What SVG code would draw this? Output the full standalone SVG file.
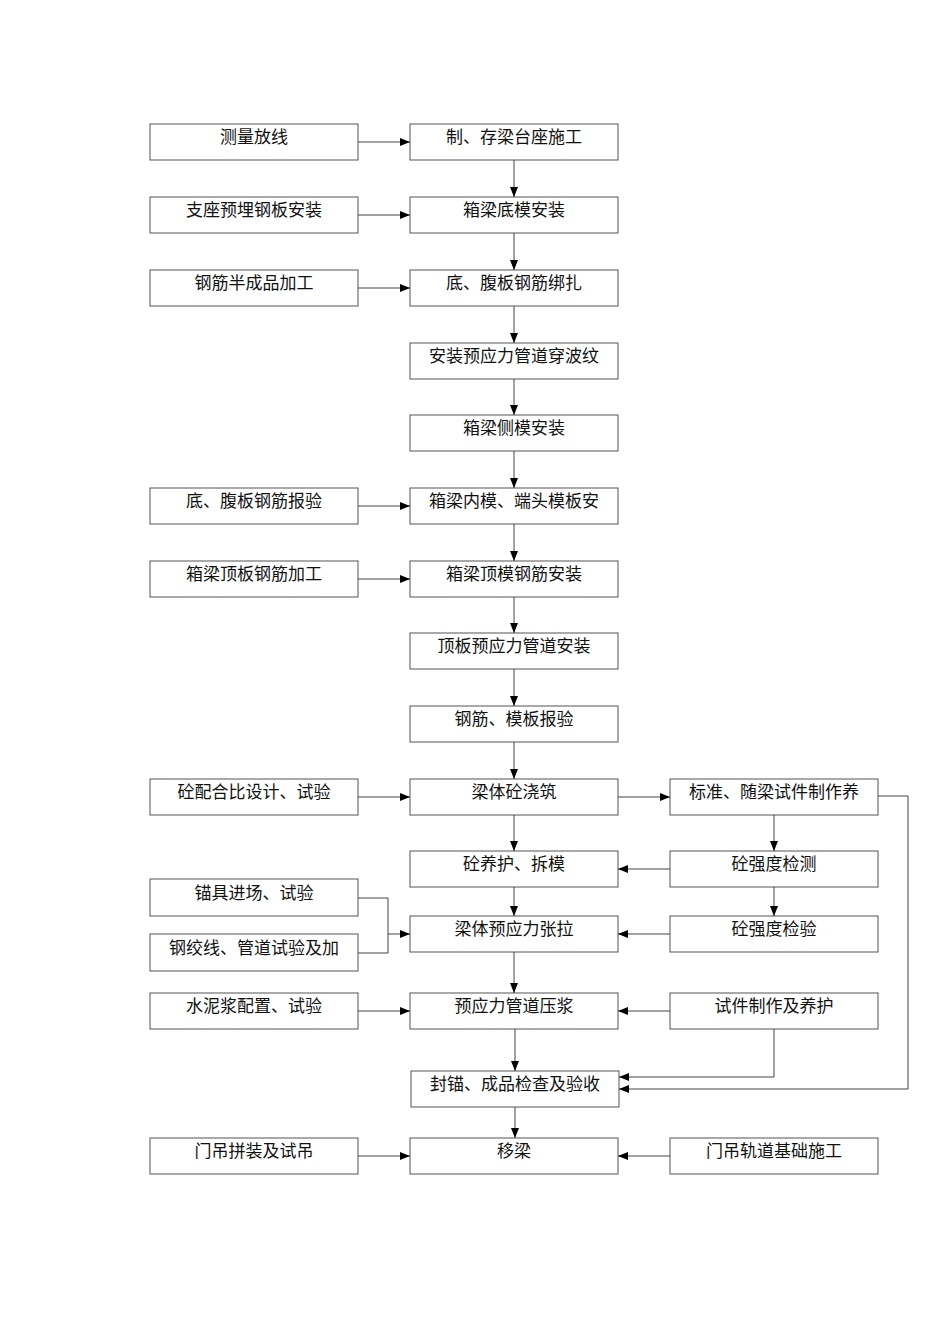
<svg xmlns="http://www.w3.org/2000/svg" width="950" height="1344" viewBox="0 0 950 1344">
<style>
rect{fill:#fff;stroke:#555;stroke-width:1}
text{font-family:"Noto Sans CJK SC",sans-serif;font-size:17px;fill:#111;text-anchor:middle}
.c path{fill:none;stroke:#444;stroke-width:1}
</style>
<defs><marker id="a" markerWidth="10" markerHeight="8" refX="10" refY="4" orient="auto" markerUnits="userSpaceOnUse"><path d="M0,0L10,4L0,8z" fill="#000"/></marker></defs>
<rect width="950" height="1344" style="stroke:none"/>
<g id="n1"><rect x="150" y="124" width="208" height="36"/><text x="254" y="143">测量放线</text></g>
<g id="n2"><rect x="410" y="124" width="208" height="36"/><text x="514" y="143">制、存梁台座施工</text></g>
<g id="n3"><rect x="150" y="197" width="208" height="36"/><text x="254" y="216">支座预埋钢板安装</text></g>
<g id="n4"><rect x="410" y="197" width="208" height="36"/><text x="514" y="216">箱梁底模安装</text></g>
<g id="n5"><rect x="150" y="270" width="208" height="36"/><text x="254" y="289">钢筋半成品加工</text></g>
<g id="n6"><rect x="410" y="270" width="208" height="36"/><text x="514" y="289">底、腹板钢筋绑扎</text></g>
<g id="n7"><rect x="410" y="343" width="208" height="36"/><text x="514" y="362">安装预应力管道穿波纹</text></g>
<g id="n8"><rect x="410" y="415" width="208" height="36"/><text x="514" y="434">箱梁侧模安装</text></g>
<g id="n9"><rect x="150" y="488" width="208" height="36"/><text x="254" y="507">底、腹板钢筋报验</text></g>
<g id="n10"><rect x="410" y="488" width="208" height="36"/><text x="514" y="507">箱梁内模、端头模板安</text></g>
<g id="n11"><rect x="150" y="561" width="208" height="36"/><text x="254" y="580">箱梁顶板钢筋加工</text></g>
<g id="n12"><rect x="410" y="561" width="208" height="36"/><text x="514" y="580">箱梁顶模钢筋安装</text></g>
<g id="n13"><rect x="410" y="633" width="208" height="36"/><text x="514" y="652">顶板预应力管道安装</text></g>
<g id="n14"><rect x="410" y="706" width="208" height="36"/><text x="514" y="725">钢筋、模板报验</text></g>
<g id="n15"><rect x="150" y="779" width="208" height="36"/><text x="254" y="798">砼配合比设计、试验</text></g>
<g id="n16"><rect x="410" y="779" width="208" height="36"/><text x="514" y="798">梁体砼浇筑</text></g>
<g id="n17"><rect x="670" y="779" width="208" height="36"/><text x="774" y="798">标准、随梁试件制作养</text></g>
<g id="n18"><rect x="410" y="851" width="208" height="36"/><text x="514" y="870">砼养护、拆模</text></g>
<g id="n19"><rect x="670" y="851" width="208" height="36"/><text x="774" y="870">砼强度检测</text></g>
<g id="n20"><rect x="150" y="879" width="208" height="37"/><text x="254" y="899">锚具进场、试验</text></g>
<g id="n21"><rect x="150" y="934" width="208" height="37"/><text x="254" y="954">钢绞线、管道试验及加</text></g>
<g id="n22"><rect x="410" y="916" width="208" height="36"/><text x="514" y="935">梁体预应力张拉</text></g>
<g id="n23"><rect x="670" y="916" width="208" height="36"/><text x="774" y="935">砼强度检验</text></g>
<g id="n24"><rect x="150" y="993" width="208" height="36"/><text x="254" y="1012">水泥浆配置、试验</text></g>
<g id="n25"><rect x="410" y="993" width="208" height="36"/><text x="514" y="1012">预应力管道压浆</text></g>
<g id="n26"><rect x="670" y="993" width="208" height="36"/><text x="774" y="1012">试件制作及养护</text></g>
<g id="n27"><rect x="411" y="1071" width="208" height="36"/><text x="515" y="1090">封锚、成品检查及验收</text></g>
<g id="n28"><rect x="150" y="1138" width="208" height="36"/><text x="254" y="1157">门吊拼装及试吊</text></g>
<g id="n29"><rect x="410" y="1138" width="208" height="36"/><text x="514" y="1157">移梁</text></g>
<g id="n30"><rect x="670" y="1138" width="208" height="36"/><text x="774" y="1157">门吊轨道基础施工</text></g>
<g class="c" marker-end="url(#a)">
<path d="M358,142H410"/><path d="M358,215H410"/><path d="M358,288H410"/><path d="M358,506H410"/><path d="M358,579H410"/><path d="M358,797H410"/><path d="M358,1011H410"/><path d="M358,1156H410"/>
<path d="M514,160V197"/><path d="M514,233V270"/><path d="M514,306V343"/><path d="M514,379V415"/><path d="M514,451V488"/><path d="M514,524V561"/><path d="M514,597V633"/><path d="M514,669V706"/><path d="M514,742V779"/><path d="M514,815V851"/><path d="M514,887V916"/><path d="M514,952V993"/><path d="M515,1029V1071"/><path d="M515,1107V1138"/>
<path d="M618,797H670"/><path d="M774,815V851"/><path d="M774,887V916"/>
<path d="M670,869H618"/><path d="M670,934H618"/><path d="M670,1011H618"/><path d="M670,1156H618"/>
<path d="M774,1029V1077H619"/><path d="M878,796H908V1089H619"/>
<path d="M358,898H388V953H358M388,934H410"/>
</g>
</svg>
